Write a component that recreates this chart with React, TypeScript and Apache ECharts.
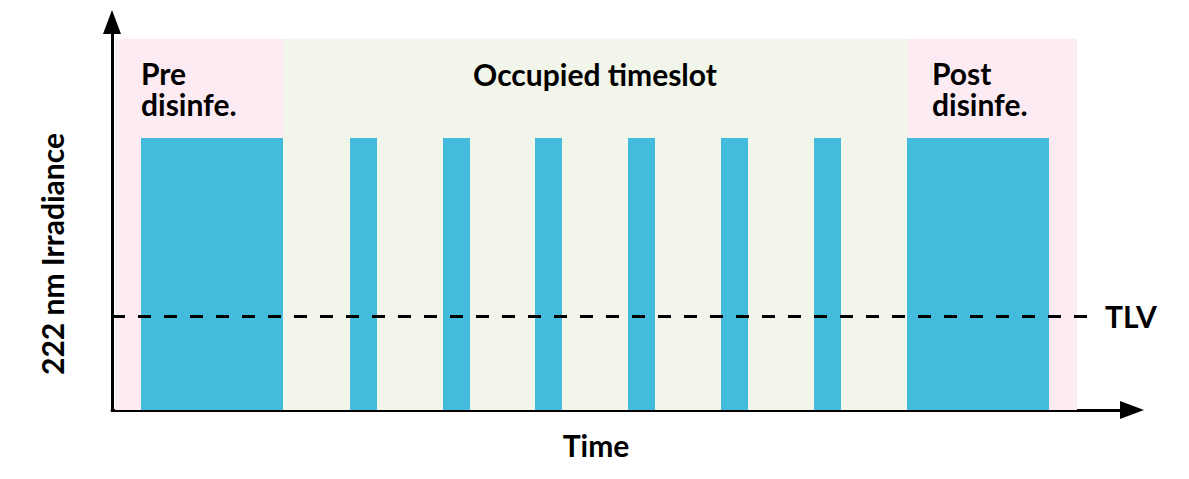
import React, { useEffect, useRef } from "react";
import * as echarts from "echarts";

// Phases (time units): [name, start, end]
const phaseNames = ["Pre\ndisinfe.", "Occupied timeslot", "Post\ndisinfe."];
const phaseStarts = [0.3, 17.1, 79.5];
const phaseEnds = [17.1, 79.5, 96.5];
const phaseTop = 92.8;

// Irradiance pulses: start, end, level
const pulseStarts = [2.9, 23.8, 33.1, 42.3, 51.6, 60.9, 70.2, 79.5];
const pulseEnds = [17.1, 26.5, 35.8, 45.0, 54.3, 63.6, 72.9, 93.7];
const pulseLevels = [68, 68, 68, 68, 68, 68, 68, 68];

const tlvValue = 23.5;
const tlvEnd = 97.5;

const xMax = 102;
const yMax = 97;

const FONT = "Lato, 'Noto Sans', sans-serif";

export default function App() {
  const ref = useRef<HTMLDivElement>(null);
  useEffect(() => {
    if (!ref.current) return;
    const chart = echarts.init(ref.current, null, { renderer: "svg" });
    const phaseColors = ["#fdebf4", "#f2f5ea", "#fdebf4"];
    const phaseOffsets = [
      { position: "insideTopLeft", offset: [21, 14] },
      { position: "insideTop", offset: [0, 15] },
      { position: "insideTopLeft", offset: [20, 14] },
    ];
    const markAreaData = phaseNames.map((n, i) => [
      {
        name: n,
        xAxis: phaseStarts[i],
        yAxis: phaseTop,
        itemStyle: { color: phaseColors[i] },
        label: {
          show: true,
          position: phaseOffsets[i].position,
          offset: phaseOffsets[i].offset,
          color: "#000",
          fontFamily: FONT,
          fontWeight: "bold",
          fontSize: 30,
          lineHeight: 31,
        },
      },
      { xAxis: phaseEnds[i], yAxis: 0 },
    ]);
    const pulses = pulseStarts.map((s, i) => [s, pulseEnds[i], pulseLevels[i]]);
    chart.setOption({
      animation: false,
      grid: { left: 112, right: 57, top: 22, bottom: 69 },
      xAxis: {
        type: "value",
        min: 0,
        max: xMax,
        axisLine: {
          show: true,
          onZero: false,
          symbol: ["none", "triangle"],
          symbolSize: [18, 24],
          lineStyle: { color: "#000", width: 3 },
        },
        axisTick: { show: false },
        axisLabel: { show: false },
        splitLine: { show: false },
      },
      yAxis: {
        type: "value",
        min: 0,
        max: yMax,
        axisLine: {
          show: true,
          onZero: false,
          symbol: ["none", "triangle"],
          symbolSize: [18, 24],
          lineStyle: { color: "#000", width: 3 },
        },
        axisTick: { show: false },
        axisLabel: { show: false },
        splitLine: { show: false },
      },
      graphic: [
        {
          type: "text",
          x: 596,
          y: 445,
          style: {
            text: "Time",
            fill: "#000",
            font: `bold 30px ${FONT}`,
            textAlign: "center",
            textVerticalAlign: "middle",
          },
        },
        {
          type: "text",
          x: 52,
          y: 254,
          rotation: Math.PI / 2,
          style: {
            text: "222 nm Irradiance",
            fill: "#000",
            font: `bold 30px ${FONT}`,
            textAlign: "center",
            textVerticalAlign: "middle",
          },
        },
      ],
      series: [
        {
          type: "line",
          data: [],
          z: 1,
          silent: true,
          markArea: { silent: true, z: 1, data: markAreaData },
        },
        {
          type: "custom",
          z: 3,
          data: pulses,
          encode: { x: [0, 1], y: 2 },
          renderItem: (params: any, api: any) => {
            const p0 = api.coord([api.value(0), api.value(2)]);
            const p1 = api.coord([api.value(1), 0]);
            return {
              type: "rect",
              shape: { x: p0[0], y: p0[1], width: p1[0] - p0[0], height: p1[1] - p0[1] },
              style: { fill: "#42bbdc" },
            };
          },
        },
        {
          type: "line",
          data: [],
          z: 20,
          silent: true,
          markLine: {
            silent: true,
            z: 20,
            symbol: ["none", "none"],
            lineStyle: { color: "#000", width: 3, type: [13, 13] },
            label: {
              show: true,
              position: "end",
              distance: 18,
              formatter: "TLV",
              color: "#000",
              fontFamily: FONT,
              fontWeight: "bold",
              fontSize: 30,
            },
            data: [
              [
                { coord: [0, tlvValue] },
                { coord: [tlvEnd, tlvValue] },
              ],
            ],
          },
        },
      ],
    });
    return () => chart.dispose();
  }, []);
  return <div ref={ref} style={{ width: 1189, height: 479, margin: -8 }} />;
}
